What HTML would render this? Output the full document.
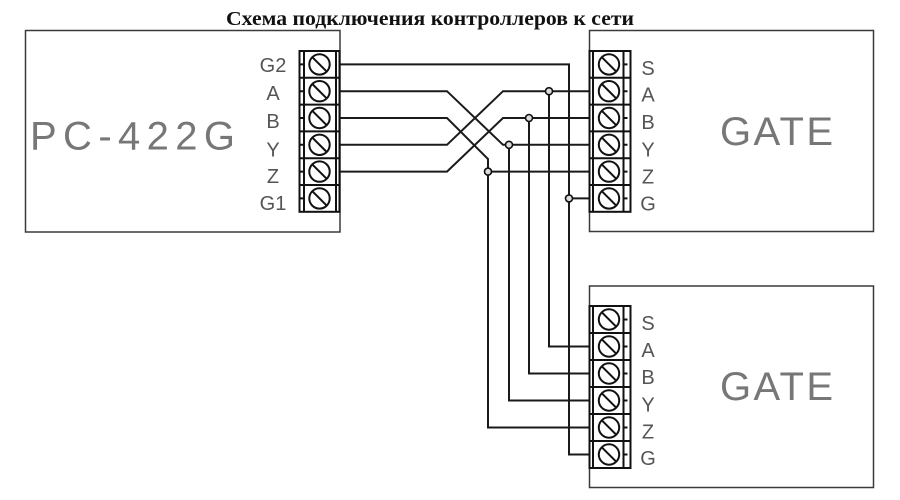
<!DOCTYPE html>
<html>
<head>
<meta charset="utf-8">
<style>
  html,body{margin:0;padding:0;background:#fff;}
  svg{display:block;}
  .lbl{font-family:"Liberation Sans",sans-serif;font-size:20px;fill:#555;text-anchor:middle;}
  .big{font-family:"Liberation Sans",sans-serif;font-size:40px;fill:#777;}
  .blk{fill:none;stroke:#111;stroke-width:2;}
  .w{fill:none;stroke:#1a1a1a;stroke-width:2;stroke-linejoin:miter;}
  .box{fill:none;stroke:#3a3a3a;stroke-width:1.5;}
  .dot{fill:#ddd;stroke:#111;stroke-width:1.6;}
</style>
</head>
<body>
<svg width="900" height="500" viewBox="0 0 900 500" xmlns="http://www.w3.org/2000/svg">
  <defs>
    <g id="screw">
      <circle cx="0" cy="0" r="10.2" fill="none" stroke="#111" stroke-width="2"/>
      <line x1="-7.2" y1="-7.2" x2="7.2" y2="7.2" stroke="#111" stroke-width="2"/>
    </g>
  </defs>
  <rect x="0" y="0" width="900" height="500" fill="#fff"/>

  <!-- Title -->
  <text x="226" y="25" font-family="'Liberation Serif','Noto Serif CJK SC',serif" font-weight="bold" font-size="20" fill="#111" textLength="408" lengthAdjust="spacingAndGlyphs">Схема подключения контроллеров к сети</text>

  <!-- Boxes -->
  <rect class="box" x="25.5" y="30.5" width="314.5" height="201.5"/>
  <rect class="box" x="589.5" y="30.5" width="284" height="201"/>
  <rect class="box" x="589.5" y="286" width="284" height="201.5"/>

  <!-- Big labels -->
  <text class="big" x="30" y="149.5" textLength="205" lengthAdjust="spacing">PC-422G</text>
  <text class="big" x="720" y="145" textLength="113" lengthAdjust="spacing">GATE</text>
  <text class="big" x="720" y="400" textLength="113" lengthAdjust="spacing">GATE</text>

  <!-- Wires -->
  <path class="w" d="M340,64.4 H569 V454.5 H589"/>
  <path class="w" d="M569,198.4 H589"/>
  <path class="w" d="M340,91.2 H447 L503,144.8 H589"/>
  <path class="w" d="M509,144.8 V400.5 H589"/>
  <path class="w" d="M340,118 H447 L488,159 V427.5 H589"/>
  <path class="w" d="M488,171.6 H589"/>
  <path class="w" d="M340,144.8 H447 L503,91.2 H589"/>
  <path class="w" d="M549,91.2 V346.5 H589"/>
  <path class="w" d="M340,171.6 H447 L503,118 H589"/>
  <path class="w" d="M529,118 V373.5 H589"/>

  <!-- Junction dots -->
  <circle class="dot" cx="549" cy="91.2" r="3.5"/>
  <circle class="dot" cx="529" cy="118" r="3.5"/>
  <circle class="dot" cx="509" cy="144.8" r="3.5"/>
  <circle class="dot" cx="488" cy="171.6" r="3.5"/>
  <circle class="dot" cx="569" cy="198.4" r="3.5"/>

  <!-- Left terminal block -->
  <rect x="299.5" y="51" width="40" height="160.8" fill="#fff" stroke="#111" stroke-width="2"/>
  <path class="blk" d="M304,51 V211.8 M336,51 V211.8
    M299.5,77.8 H339.5 M299.5,104.6 H339.5 M299.5,131.4 H339.5 M299.5,158.2 H339.5 M299.5,185 H339.5
    M300.5,64.4 H304 M300.5,91.2 H304 M300.5,118 H304 M300.5,144.8 H304 M300.5,171.6 H304 M300.5,198.4 H304"/>
  <use href="#screw" x="319.5" y="64.4"/>
  <use href="#screw" x="319.5" y="91.2"/>
  <use href="#screw" x="319.5" y="118"/>
  <use href="#screw" x="319.5" y="144.8"/>
  <use href="#screw" x="319.5" y="171.6"/>
  <use href="#screw" x="319.5" y="198.4"/>

  <!-- Right top terminal block -->
  <rect x="589.5" y="51" width="41" height="160.8" fill="#fff" stroke="#111" stroke-width="2"/>
  <path class="blk" d="M593,51 V211.8 M623.5,51 V211.8
    M589.5,77.8 H630.5 M589.5,104.6 H630.5 M589.5,131.4 H630.5 M589.5,158.2 H630.5 M589.5,185 H630.5
    M623.5,64.4 H627.5 M623.5,91.2 H627.5 M623.5,118 H627.5 M623.5,144.8 H627.5 M623.5,171.6 H627.5 M623.5,198.4 H627.5"/>
  <use href="#screw" x="609" y="64.4"/>
  <use href="#screw" x="609" y="91.2"/>
  <use href="#screw" x="609" y="118"/>
  <use href="#screw" x="609" y="144.8"/>
  <use href="#screw" x="609" y="171.6"/>
  <use href="#screw" x="609" y="198.4"/>

  <!-- Right bottom terminal block -->
  <rect x="589.5" y="306" width="41" height="162" fill="#fff" stroke="#111" stroke-width="2"/>
  <path class="blk" d="M593,306 V468 M623.5,306 V468
    M589.5,333 H630.5 M589.5,360 H630.5 M589.5,387 H630.5 M589.5,414 H630.5 M589.5,441 H630.5
    M623.5,319.5 H627.5 M623.5,346.5 H627.5 M623.5,373.5 H627.5 M623.5,400.5 H627.5 M623.5,427.5 H627.5 M623.5,454.5 H627.5"/>
  <use href="#screw" x="609" y="319.5"/>
  <use href="#screw" x="609" y="346.5"/>
  <use href="#screw" x="609" y="373.5"/>
  <use href="#screw" x="609" y="400.5"/>
  <use href="#screw" x="609" y="427.5"/>
  <use href="#screw" x="609" y="454.5"/>

  <!-- Left labels -->
  <text class="lbl" x="273" y="72">G2</text>
  <text class="lbl" x="273" y="100">A</text>
  <text class="lbl" x="273" y="128">B</text>
  <text class="lbl" x="273" y="156.5">Y</text>
  <text class="lbl" x="273" y="183">Z</text>
  <text class="lbl" x="273" y="210">G1</text>

  <!-- Right top labels -->
  <text class="lbl" x="648" y="75">S</text>
  <text class="lbl" x="648" y="101.7">A</text>
  <text class="lbl" x="648" y="129">B</text>
  <text class="lbl" x="648" y="156.7">Y</text>
  <text class="lbl" x="648" y="183.3">Z</text>
  <text class="lbl" x="648" y="210.7">G</text>

  <!-- Right bottom labels -->
  <text class="lbl" x="648" y="330">S</text>
  <text class="lbl" x="648" y="357">A</text>
  <text class="lbl" x="648" y="384">B</text>
  <text class="lbl" x="648" y="411.7">Y</text>
  <text class="lbl" x="648" y="438.3">Z</text>
  <text class="lbl" x="648" y="465">G</text>
</svg>
</body>
</html>
